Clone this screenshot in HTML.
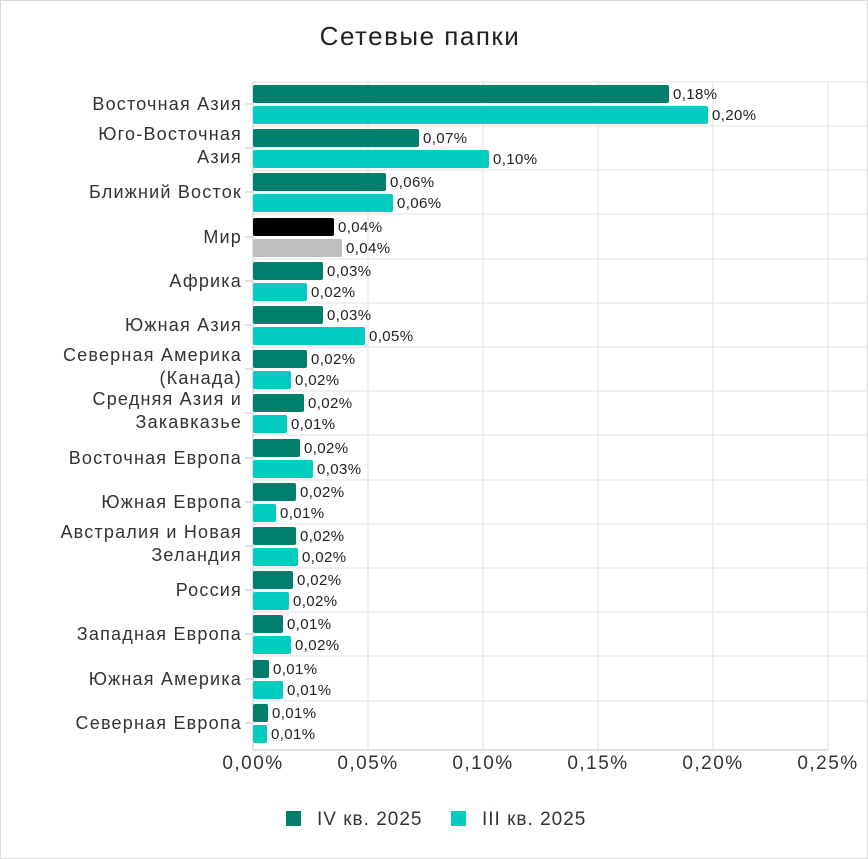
<!DOCTYPE html>
<html><head><meta charset="utf-8"><style>
body{margin:0;background:#fff;}
svg{display:block;font-family:"Liberation Sans",sans-serif;}
.v{font-size:15px;fill:#222;letter-spacing:0.4px;}
.c{font-size:18px;fill:#333;text-anchor:end;letter-spacing:1.2px;}
</style></head><body>
<svg width="868" height="859" viewBox="0 0 868 859">
<rect x="0.5" y="0.5" width="867" height="858" fill="#fff" stroke="#d9d9d9"/>
<text x="420" y="45" font-size="26" fill="#222" text-anchor="middle" letter-spacing="1.5">Сетевые папки</text>
<g stroke="#e6e6e6" stroke-width="1.3">
<line x1="368" y1="82" x2="368" y2="750"/><line x1="483" y1="82" x2="483" y2="750"/><line x1="598" y1="82" x2="598" y2="750"/><line x1="713" y1="82" x2="713" y2="750"/><line x1="828" y1="82" x2="828" y2="750"/>
<line x1="253" y1="82" x2="868" y2="82"/>
<line x1="253" y1="126" x2="868" y2="126"/><line x1="253" y1="170" x2="868" y2="170"/><line x1="253" y1="214" x2="868" y2="214"/><line x1="253" y1="259" x2="868" y2="259"/><line x1="253" y1="303" x2="868" y2="303"/><line x1="253" y1="347" x2="868" y2="347"/><line x1="253" y1="391" x2="868" y2="391"/><line x1="253" y1="435" x2="868" y2="435"/><line x1="253" y1="480" x2="868" y2="480"/><line x1="253" y1="524" x2="868" y2="524"/><line x1="253" y1="568" x2="868" y2="568"/><line x1="253" y1="612" x2="868" y2="612"/><line x1="253" y1="656" x2="868" y2="656"/><line x1="253" y1="701" x2="868" y2="701"/>
</g>
<g stroke="#d9d9d9" stroke-width="1.5">
<line x1="253" y1="82" x2="253" y2="750"/><line x1="253" y1="750" x2="828" y2="750"/>
<line x1="245" y1="104" x2="253" y2="104"/><line x1="245" y1="148" x2="253" y2="148"/><line x1="245" y1="192" x2="253" y2="192"/><line x1="245" y1="237" x2="253" y2="237"/><line x1="245" y1="281" x2="253" y2="281"/><line x1="245" y1="325" x2="253" y2="325"/><line x1="245" y1="369" x2="253" y2="369"/><line x1="245" y1="413" x2="253" y2="413"/><line x1="245" y1="458" x2="253" y2="458"/><line x1="245" y1="502" x2="253" y2="502"/><line x1="245" y1="546" x2="253" y2="546"/><line x1="245" y1="590" x2="253" y2="590"/><line x1="245" y1="634" x2="253" y2="634"/><line x1="245" y1="679" x2="253" y2="679"/><line x1="245" y1="723" x2="253" y2="723"/>
</g>
<g>
<rect x="253" y="85" width="416" height="18" rx="2" fill="#00806c"/><rect x="253" y="106" width="455" height="18" rx="2" fill="#00ccc0"/>
<rect x="253" y="129" width="166" height="18" rx="2" fill="#00806c"/><rect x="253" y="150" width="236" height="18" rx="2" fill="#00ccc0"/>
<rect x="253" y="173" width="133" height="18" rx="2" fill="#00806c"/><rect x="253" y="194" width="140" height="18" rx="2" fill="#00ccc0"/>
<rect x="253" y="218" width="81" height="18" rx="2" fill="#000"/><rect x="253" y="239" width="89" height="18" rx="2" fill="#bfbfbf"/>
<rect x="253" y="262" width="70" height="18" rx="2" fill="#00806c"/><rect x="253" y="283" width="54" height="18" rx="2" fill="#00ccc0"/>
<rect x="253" y="306" width="70" height="18" rx="2" fill="#00806c"/><rect x="253" y="327" width="112" height="18" rx="2" fill="#00ccc0"/>
<rect x="253" y="350" width="54" height="18" rx="2" fill="#00806c"/><rect x="253" y="371" width="38" height="18" rx="2" fill="#00ccc0"/>
<rect x="253" y="394" width="51" height="18" rx="2" fill="#00806c"/><rect x="253" y="415" width="34" height="18" rx="2" fill="#00ccc0"/>
<rect x="253" y="439" width="47" height="18" rx="2" fill="#00806c"/><rect x="253" y="460" width="60" height="18" rx="2" fill="#00ccc0"/>
<rect x="253" y="483" width="43" height="18" rx="2" fill="#00806c"/><rect x="253" y="504" width="23" height="18" rx="2" fill="#00ccc0"/>
<rect x="253" y="527" width="43" height="18" rx="2" fill="#00806c"/><rect x="253" y="548" width="45" height="18" rx="2" fill="#00ccc0"/>
<rect x="253" y="571" width="40" height="18" rx="2" fill="#00806c"/><rect x="253" y="592" width="36" height="18" rx="2" fill="#00ccc0"/>
<rect x="253" y="615" width="30" height="18" rx="2" fill="#00806c"/><rect x="253" y="636" width="38" height="18" rx="2" fill="#00ccc0"/>
<rect x="253" y="660" width="16" height="18" rx="2" fill="#00806c"/><rect x="253" y="681" width="30" height="18" rx="2" fill="#00ccc0"/>
<rect x="253" y="704" width="15" height="18" rx="2" fill="#00806c"/><rect x="253" y="725" width="14" height="18" rx="2" fill="#00ccc0"/>
</g>
<g class="v">
<text class="v" x="673" y="99">0,18%</text><text class="v" x="712" y="120">0,20%</text>
<text class="v" x="423" y="143">0,07%</text><text class="v" x="493" y="164">0,10%</text>
<text class="v" x="390" y="187">0,06%</text><text class="v" x="397" y="208">0,06%</text>
<text class="v" x="338" y="232">0,04%</text><text class="v" x="346" y="253">0,04%</text>
<text class="v" x="327" y="276">0,03%</text><text class="v" x="311" y="297">0,02%</text>
<text class="v" x="327" y="320">0,03%</text><text class="v" x="369" y="341">0,05%</text>
<text class="v" x="311" y="364">0,02%</text><text class="v" x="295" y="385">0,02%</text>
<text class="v" x="308" y="408">0,02%</text><text class="v" x="291" y="429">0,01%</text>
<text class="v" x="304" y="453">0,02%</text><text class="v" x="317" y="474">0,03%</text>
<text class="v" x="300" y="497">0,02%</text><text class="v" x="280" y="518">0,01%</text>
<text class="v" x="300" y="541">0,02%</text><text class="v" x="302" y="562">0,02%</text>
<text class="v" x="297" y="585">0,02%</text><text class="v" x="293" y="606">0,02%</text>
<text class="v" x="287" y="629">0,01%</text><text class="v" x="295" y="650">0,02%</text>
<text class="v" x="273" y="674">0,01%</text><text class="v" x="287" y="695">0,01%</text>
<text class="v" x="272" y="718">0,01%</text><text class="v" x="271" y="739">0,01%</text>
</g>
<g>
<text class="c" x="242" y="110">Восточная Азия</text>
<text class="c" x="242" y="140">Юго-Восточная</text><text class="c" x="242" y="163">Азия</text>
<text class="c" x="242" y="198">Ближний Восток</text>
<text class="c" x="242" y="243">Мир</text>
<text class="c" x="242" y="287">Африка</text>
<text class="c" x="242" y="331">Южная Азия</text>
<text class="c" x="242" y="361">Северная Америка</text><text class="c" x="242" y="384">(Канада)</text>
<text class="c" x="242" y="405">Средняя Азия и</text><text class="c" x="242" y="428">Закавказье</text>
<text class="c" x="242" y="464">Восточная Европа</text>
<text class="c" x="242" y="508">Южная Европа</text>
<text class="c" x="242" y="538">Австралия и Новая</text><text class="c" x="242" y="561">Зеландия</text>
<text class="c" x="242" y="596">Россия</text>
<text class="c" x="242" y="640">Западная Европа</text>
<text class="c" x="242" y="685">Южная Америка</text>
<text class="c" x="242" y="729">Северная Европа</text>
</g>
<g font-size="19" fill="#333" text-anchor="middle" letter-spacing="1.5">
<text x="253" y="769">0,00%</text><text x="368" y="769">0,05%</text><text x="483" y="769">0,10%</text><text x="598" y="769">0,15%</text><text x="713" y="769">0,20%</text><text x="828" y="769">0,25%</text>
</g>
<rect x="286" y="811" width="15" height="15" fill="#00806c"/>
<text x="317" y="825" font-size="19" fill="#333" letter-spacing="1">IV кв. 2025</text>
<rect x="451" y="811" width="15" height="15" fill="#00ccc0"/>
<text x="482" y="825" font-size="19" fill="#333" letter-spacing="1">III кв. 2025</text>
</svg>
</body></html>
